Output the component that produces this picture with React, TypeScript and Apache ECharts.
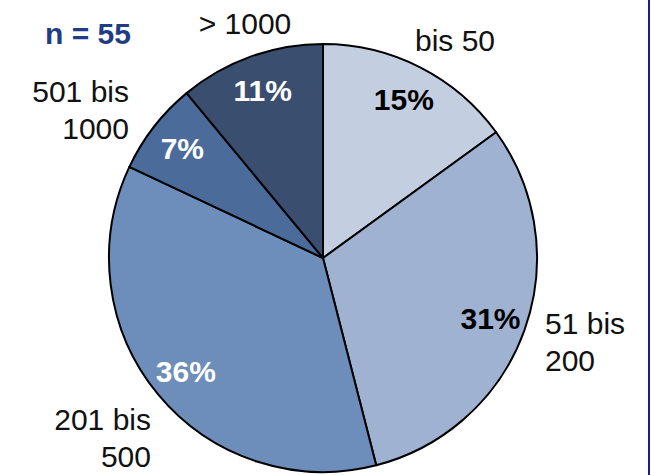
import React, { useEffect, useRef } from "react";
import * as echarts from "echarts";

const CATEGORIES = ["bis 50", "51 bis\n200", "201 bis\n500", "501 bis\n1000", "> 1000"];
const PERCENTS = [15, 31, 36, 7, 11];
const SLICE_COLORS = ["#c4cee1", "#9fb2d1", "#6d8dba", "#4b6b9b", "#3a4e6f"];
const PCT_TEXT_COLORS = ["#000000", "#000000", "#ffffff", "#ffffff", "#ffffff"];
const SAMPLE_LABEL = "n = 55";

// outside label anchors (layout only)
const OUT_LABEL_LAYOUT = [
  { x: 455, y: 40, align: "center" },
  { x: 545, y: 342, align: "left" },
  { x: 151, y: 438, align: "right" },
  { x: 129, y: 110, align: "right" },
  { x: 245, y: 23, align: "center" },
];

export default function App() {
  const ref = useRef<HTMLDivElement>(null);
  useEffect(() => {
    if (!ref.current) return;
    const chart = echarts.init(ref.current, null, { renderer: "svg" });
    const font = "'Liberation Sans', Arial, Helvetica, sans-serif";
    chart.setOption({
      animation: false,
      backgroundColor: "#ffffff",
      textStyle: { fontFamily: font },
      graphic: [
        {
          type: "rect",
          shape: { x: 648, y: 0, width: 2, height: 475 },
          style: { fill: "#1b1b8f" },
          silent: true,
        },
        {
          type: "text",
          x: 88,
          y: 33,
          style: {
            text: SAMPLE_LABEL,
            fill: "#1f3c84",
            font: `bold 30px ${font}`,
            align: "center",
            verticalAlign: "middle",
          },
        },
      ],
      series: [
        {
          type: "pie",
          center: [323, 258],
          radius: [0, 214],
          startAngle: 90,
          clockwise: true,
          avoidLabelOverlap: false,
          itemStyle: { borderColor: "#000000", borderWidth: 2 },
          label: {
            show: true,
            position: "outside",
            formatter: (p: any) => p.name,
            fontSize: 30,
            lineHeight: 37,
            color: "#111111",
            fontFamily: font,
          },
          labelLine: { show: false },
          labelLayout: (p: any) => {
            const l = OUT_LABEL_LAYOUT[p.dataIndex];
            return { x: l.x, y: l.y, align: l.align, verticalAlign: "middle" };
          },
          emphasis: { disabled: true },
          data: CATEGORIES.map((name, i) => ({
            name,
            value: PERCENTS[i],
            itemStyle: { color: SLICE_COLORS[i] },
          })),
        },
        {
          type: "pie",
          center: [323, 258],
          radius: [136, 214],
          startAngle: 90,
          clockwise: true,
          silent: true,
          avoidLabelOverlap: false,
          itemStyle: { color: "transparent", borderWidth: 0 },
          label: {
            show: true,
            position: "inside",
            formatter: (p: any) => `${p.value}%`,
            fontSize: 30,
            fontWeight: "bold",
            fontFamily: font,
          },
          labelLine: { show: false },
          emphasis: { disabled: true },
          data: CATEGORIES.map((name, i) => ({
            name,
            value: PERCENTS[i],
            label: { color: PCT_TEXT_COLORS[i] },
          })),
        },
      ],
    });
    return () => chart.dispose();
  }, []);
  return (
    <div
      ref={ref}
      style={{ position: "fixed", left: 0, top: 0, width: 651, height: 475 }}
    />
  );
}
